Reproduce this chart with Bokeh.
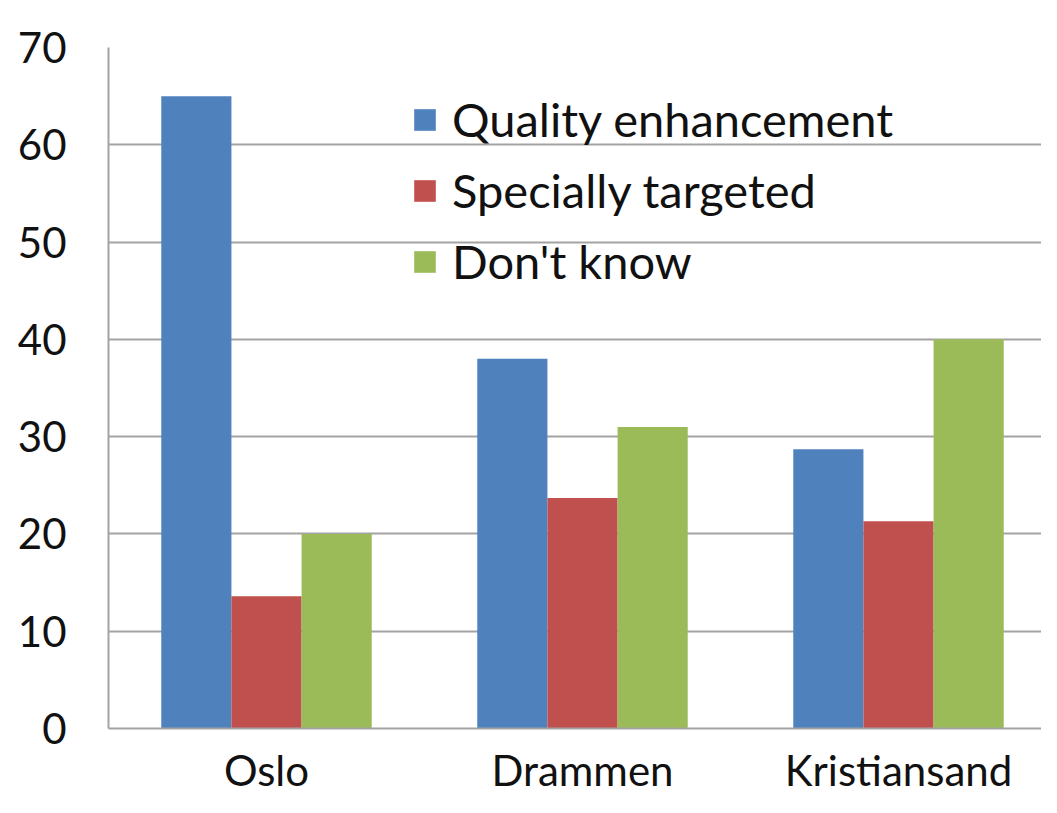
from bokeh.plotting import figure
from bokeh.models import ColumnDataSource, Legend, LegendItem, Range1d, FixedTicker
from bokeh.embed import file_html
from bokeh.resources import INLINE

cities = ["Oslo", "Drammen", "Kristiansand"]
quality = [65, 38, 28.7]
special = [13.6, 23.7, 21.3]
dontknow = [20, 31, 40]
series_names = ["Quality enhancement", "Specially targeted", "Don't know"]
colors = ["#4F81BD", "#C0504D", "#9BBB59"]
y_ticks = [0, 10, 20, 30, 40, 50, 60, 70]

FONT = "Lato"
W, H = 1041, 797
LEFT, TOP, BOTTOM = 108, 47, 69
GROUP_PX = 316.0  # pixels per category slot

pos = [i + 0.5 for i in range(len(cities))]
w = 0.222
src = ColumnDataSource(dict(
    xq=[x - w for x in pos], xs=pos, xd=[x + w for x in pos],
    q=quality, s=special, d=dontknow))

x_end = (W - LEFT) / GROUP_PX
p = figure(x_range=Range1d(0, x_end), y_range=Range1d(0, 70),
           width=W, height=H, output_backend="svg", toolbar_location=None,
           min_border_left=LEFT, min_border_top=TOP, min_border_bottom=BOTTOM, min_border_right=0)
p.outline_line_color = None

r1 = p.vbar(x="xq", top="q", width=w, source=src, color=colors[0], line_color=None)
r2 = p.vbar(x="xs", top="s", width=w, source=src, color=colors[1], line_color=None)
r3 = p.vbar(x="xd", top="d", width=w, source=src, color=colors[2], line_color=None)

p.yaxis.ticker = FixedTicker(ticks=y_ticks)
p.xaxis.ticker = FixedTicker(ticks=pos)
p.xaxis.major_label_overrides = {x: c for x, c in zip(pos, cities)}
p.xgrid.grid_line_color = None
p.ygrid.grid_line_color = "#a3a3a3"
p.ygrid.grid_line_width = 2

for ax in (p.xaxis[0], p.yaxis[0]):
    ax.axis_line_color = "#a3a3a3"
    ax.axis_line_width = 2
    ax.major_tick_line_color = None
    ax.minor_tick_line_color = None
    ax.major_tick_out = 0
    ax.major_tick_in = 0
    ax.major_label_text_font = FONT
    ax.major_label_text_font_size = "42px"
    ax.major_label_text_color = "#111111"
p.yaxis.major_label_standoff = 42
p.xaxis.major_label_standoff = 16

frame_h = H - TOP - BOTTOM
legend_h = 3 * 60 + 2 * 11
legend = Legend(items=[LegendItem(label=series_names[0], renderers=[r1]),
                       LegendItem(label=series_names[1], renderers=[r2]),
                       LegendItem(label=series_names[2], renderers=[r3])],
                location=(303, frame_h - 42 - legend_h), padding=0, margin=0, spacing=11,
                glyph_width=27, glyph_height=27, label_height=60, label_standoff=14,
                label_text_font=FONT, label_text_font_size="47px", label_text_color="#111111",
                background_fill_alpha=0, border_line_color=None)
p.add_layout(legend, "center")

open("out.html", "w").write(file_html(p, INLINE))
